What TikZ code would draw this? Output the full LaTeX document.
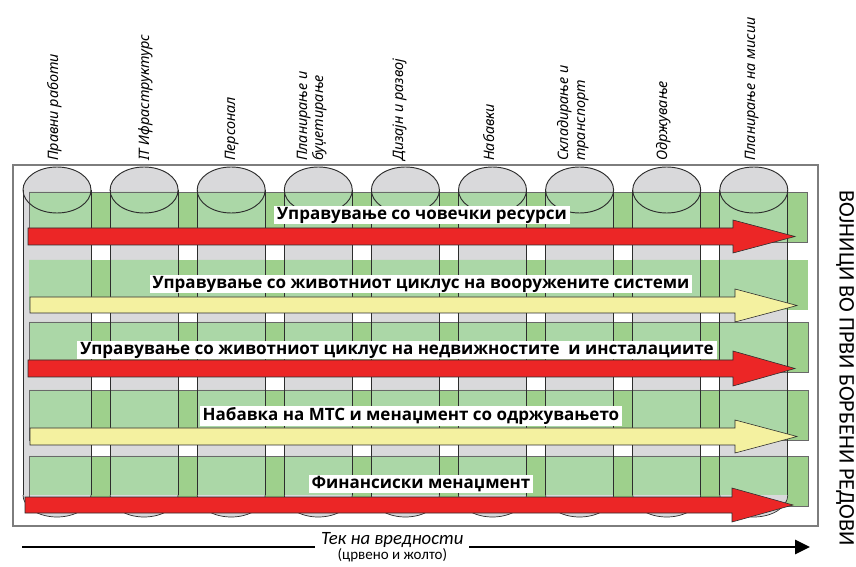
\documentclass[tikz,border=0pt]{standalone}
\usepackage{fontspec}
\setmainfont{Open Sans}
\newfontfamily\colfont[Language=Macedonian]{Noto Sans}
\newfontfamily\sidefont{Carlito}
\usetikzlibrary{arrows.meta}
\definecolor{frameline}{RGB}{125,125,125}
\definecolor{bandgreen}{RGB}{158,208,140}
\definecolor{mint}{RGB}{171,215,167}
\definecolor{cylgrey}{RGB}{217,217,219}
\definecolor{cylline}{RGB}{45,45,45}
\definecolor{bandline}{RGB}{105,105,105}
\definecolor{flowred}{RGB}{236,38,38}
\definecolor{flowyellow}{RGB}{244,241,160}
\tikzset{
  band/.style={draw=bandline, line width=0.6pt},
  flow/.style={draw=cylline, line width=0.5pt},
  flowlab/.style={fill=white, inner xsep=2.5pt, inner ysep=1pt,
                  font=\bfseries\fontsize{14.5}{16}\selectfont},
  collab/.style={rotate=90, anchor=west, align=left, inner sep=0pt,
                 font=\colfont\itshape\fontsize{12.3}{14}\selectfont},
  value/.style={-{Triangle[length=0.45cm, width=0.42cm]}, line width=2.4pt},
}

\begin{document}
\begin{tikzpicture}[x=0.03cm, y=-0.03cm]
  \useasboundingbox (0,0) rectangle (856,567);

  %% frame
  \draw[frameline, fill=white, line width=1pt] (13,165) rectangle (818,526);

  %% bands (green)
  \fill[bandgreen] (29,192) rectangle (807,242);
  \fill[bandgreen] (29,260) rectangle (808,310);
  \fill[bandgreen] (29,322) rectangle (808,372);
  \fill[bandgreen] (29,390) rectangle (808,440);
  \fill[bandgreen] (29,456) rectangle (808,506);

  %% cylinders: grey body, mint where a band crosses
  \foreach \c in {57,144.1,231.2,318.3,405.4,492.5,579.6,666.7,753.8} {
    \fill[cylgrey] (\c-34,190) rectangle (\c+34,495);
    \fill[cylgrey] (\c,190) ellipse [x radius=34, y radius=23];
    \fill[cylgrey] (\c,495) ellipse [x radius=34, y radius=22];
  }
  \begin{scope}
    \clip (29,192) rectangle (807,242) (29,260) rectangle (808,310)
          (29,322) rectangle (808,372) (29,390) rectangle (808,440)
          (29,456) rectangle (808,506);
    \foreach \c in {57,144.1,231.2,318.3,405.4,492.5,579.6,666.7,753.8} {
      \fill[mint] (\c-34,190) rectangle (\c+34,495);
      \fill[mint] (\c,190) ellipse [x radius=34, y radius=23];
    }
  \end{scope}

  \draw[band] (29,192) rectangle (807,242);
  \draw[band] (29,322) rectangle (808,372);
  \draw[band] (29,390) rectangle (808,440);
  \draw[band] (29,456) rectangle (808,506);

  \foreach \c in {57,144.1,231.2,318.3,405.4,492.5,579.6,666.7,753.8} {
    \draw[cylline, line width=0.8pt] (\c-34,190) -- (\c-34,495);
    \draw[cylline, line width=0.8pt] (\c+34,190) -- (\c+34,495);
    \draw[cylline, line width=0.8pt] (\c,190) ellipse [x radius=34, y radius=23];
    \draw[cylline, line width=0.6pt] (\c-34,495) arc[start angle=180, end angle=0, x radius=34, y radius=22];
  }

  %% value streams
  \draw[flow, fill=flowred] (28,228) -- (733,228) -- (733,220) -- (795,236.5)
    -- (733,253) -- (733,245) -- (28,245) -- cycle;
  \draw[flow, fill=flowyellow] (30,297) -- (735,297) -- (735,289) -- (797,305.5)
    -- (735,322) -- (735,313) -- (30,313) -- cycle;
  \draw[flow, fill=flowred] (28,360) -- (733,360) -- (733,351) -- (795,368.5)
    -- (733,386) -- (733,377) -- (28,377) -- cycle;
  \draw[flow, fill=flowyellow] (30,428) -- (735,428) -- (735,420) -- (797,436.5)
    -- (735,453) -- (735,445) -- (30,445) -- cycle;
  \draw[flow, fill=flowred] (25,497) -- (732,497) -- (732,488) -- (793,505)
    -- (732,522) -- (732,513) -- (25,513) -- cycle;

  \node[flowlab] (hr) at (422,215) {Управување со човечки ресурси};
  \node[flowlab] (wsys) at (421,284) {Управување со животниот циклус на вооружените системи};
  \node[flowlab] (infra) at (397,350) {Управување со животниот циклус на недвижностите\ \ и инсталациите};
  \node[flowlab] (mts) at (411,416) {Набавка на МТС и менаџмент со одржувањето};
  \node[flowlab] (fin) at (421,484) {Финансиски менаџмент};

  %% column labels
  \node[collab] (legal) at (55,161) {Правни работи};
  \node[collab] (itinf) at (146,161) {IT Ифраструктурс};
  \node[collab] (staff) at (232,161) {Персонал};
  \node[collab] (budget) at (312,161) {Планирање и\\ буџетирање};
  \node[collab] (design) at (400,161) {Дизајн и развој};
  \node[collab] (procure) at (489,161) {Набавки};
  \node[collab] (storage) at (573,161) {Складирање и\\ транспорт};
  \node[collab] (maint) at (664,161) {Одржување};
  \node[collab] (mission) at (752,161) {Планирање на мисии};

  %% side and value flow
  \node[rotate=-90, font=\sidefont\fontsize{19}{21}\selectfont] (front) at (845,368)
    {ВОЈНИЦИ ВО ПРВИ БОРБЕНИ РЕДОВИ};

  \coordinate (flowL) at (22,547);
  \coordinate (flowR) at (810,547);
  \draw[value] (flowL) -- node[pos=0.47, fill=white, align=center, inner xsep=5pt, inner ysep=1pt] (vflow)
    {{\sidefont\itshape\fontsize{16}{17}\selectfont Тек на вредности}\\[1pt]
     {\sidefont\fontsize{12.8}{14}\selectfont (црвено и жолто)}} (flowR);
\end{tikzpicture}
\end{document}
